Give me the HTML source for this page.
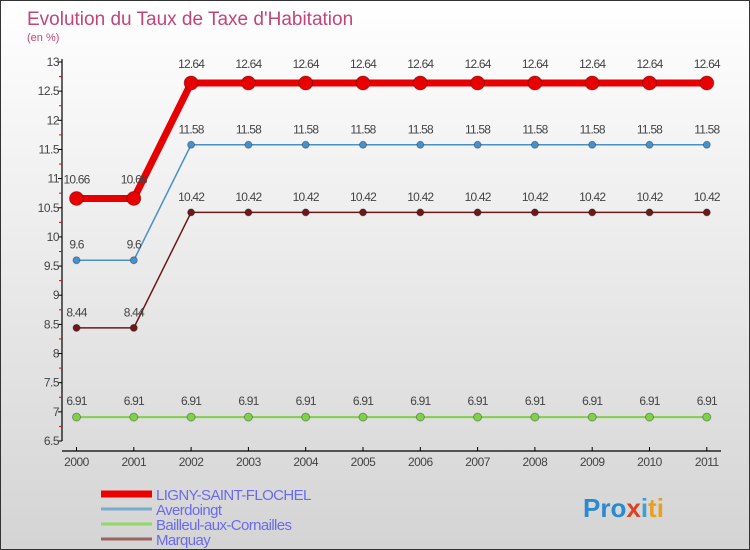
<!DOCTYPE html>
<html><head><meta charset="utf-8"><style>
body{margin:0}
#c{width:750px;height:550px;position:relative;box-sizing:border-box;border:1px solid #333;background:linear-gradient(#fff,#d4d4d4);font-family:"Liberation Sans",sans-serif;overflow:hidden}
text{font-family:"Liberation Sans",sans-serif}
</style></head><body>
<div id="c">
<svg id="s" width="750" height="550">
<text x="26" y="24" font-size="19" fill="#c2457a">Evolution du Taux de Taxe d'Habitation</text>
<text x="26" y="40" font-size="11" fill="#c2457a">(en %)</text>
<g id="g"></g>
</svg>
</div>
<script>
const years=[2000,2001,2002,2003,2004,2005,2006,2007,2008,2009,2010,2011];
const ligny=[10.66,10.66,12.64,12.64,12.64,12.64,12.64,12.64,12.64,12.64,12.64,12.64];
const averdoingt=[9.6,9.6,11.58,11.58,11.58,11.58,11.58,11.58,11.58,11.58,11.58,11.58];
const bailleul=[6.91,6.91,6.91,6.91,6.91,6.91,6.91,6.91,6.91,6.91,6.91,6.91];
const marquay=[8.44,8.44,10.42,10.42,10.42,10.42,10.42,10.42,10.42,10.42,10.42,10.42];
const yTicks=[6.5,7,7.5,8,8.5,9,9.5,10,10.5,11,11.5,12,12.5,13];
const seriesNames=["LIGNY-SAINT-FLOCHEL","Averdoingt","Bailleul-aux-Cornailles","Marquay"];
const NS="http://www.w3.org/2000/svg";
const g=document.getElementById('g');
const X=i=>75.5+i*57.3;
const Y=v=>440-(v-6.5)*(379/6.5);
function el(t,a,p){const e=document.createElementNS(NS,t);for(const k in a)e.setAttribute(k,a[k]);(p||g).appendChild(e);return e;}
let e;
e=el('line',{x1:61,y1:58,x2:61,y2:440,stroke:'#000','stroke-width':1.2});


e=el('line',{x1:61,y1:450,x2:720,y2:450,stroke:'#000','stroke-width':1.2});


yTicks.forEach((t,i)=>{
 el('line',{x1:57,y1:Y(t),x2:61,y2:Y(t),stroke:'#000'});
 if(i<yTicks.length-1) el('line',{x1:58,y1:Y(t+0.25),x2:61,y2:Y(t+0.25),stroke:'#e00'});
 e=el('text',{x:58,y:Y(t)+4,'font-size':12,fill:'#444','text-anchor':'end','letter-spacing':'-0.5'});
 e.textContent=String(t);
 
 
});
years.forEach((yr,i)=>{
 el('line',{x1:X(i),y1:446,x2:X(i),y2:450,stroke:'#000'});
 e=el('text',{x:X(i),y:465,'font-size':12,fill:'#444','text-anchor':'middle','letter-spacing':'-0.5'});
 e.textContent=String(yr);
 
 
});
function series(data,color,w,r,name){
 e=el('polyline',{points:data.map((v,i)=>X(i)+','+Y(v)).join(' '),fill:'none',stroke:color,'stroke-width':w});
 
 
 data.forEach((v,i)=>{
  e=el('circle',{cx:X(i),cy:Y(v),r:r,fill:color,stroke:'rgba(0,0,0,0.3)','stroke-width':1});
  
  
  e=el('text',{x:X(i),y:Y(v)-(r+8),'font-size':12,fill:'#444','text-anchor':'middle','letter-spacing':'-0.8'});
  e.textContent=String(v);
  
  
 });
}
series(bailleul,'#7fd04a',2,4,'bailleul');
series(marquay,'#6b1a1a',1.5,3.5,'marquay');
series(averdoingt,'#4a90c8',1.5,3.5,'averdoingt');
series(ligny,'#e80000',7,7,'ligny');
const lc=['#ee0000','#7aaccc','#90d868','#9a6464'],lw=[7,3,3,3],ly=[493,508,523,538];
seriesNames.forEach((n,i)=>{
 e=el('line',{x1:100,y1:ly[i],x2:151,y2:ly[i],stroke:lc[i],'stroke-width':lw[i]});
 
 
 e=el('text',{x:155,y:ly[i]+6,'font-size':15,fill:'#6a6af0','letter-spacing':'-0.6'});
 e.textContent=n;
 
 
});
e=el('text',{x:582,y:516,'font-size':26,'font-weight':'bold',fill:'#e08a20'});
e.innerHTML='<tspan fill="#2a8ad0">Pro</tspan><tspan fill="#e04020">x</tspan><tspan fill="#3aa0d8">i</tspan><tspan fill="#e8a020">ti</tspan>';


</script>
</body></html>
